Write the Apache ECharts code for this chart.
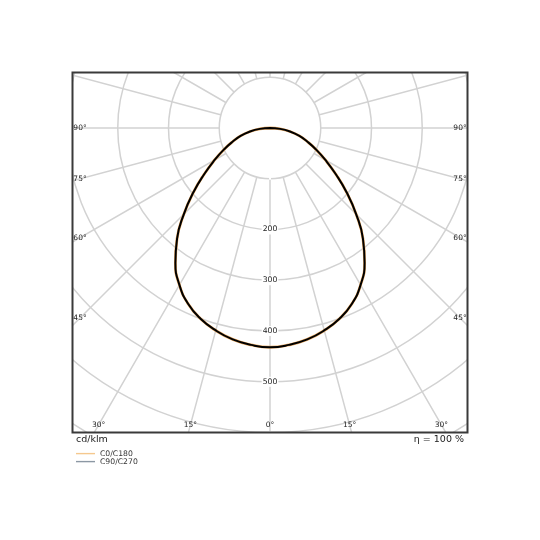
<!DOCTYPE html>
<html>
<head>
<meta charset="utf-8">
<script src="https://cdn.jsdelivr.net/npm/echarts@6/dist/echarts.min.js"></script>
<style>
html,body{margin:0;padding:0;background:#fff;}
#c{width:540px;height:540px;}
</style>
</head>
<body>
<div id="c"></div>
<script>
// ---- data ----
const gammaDeg = [0, 5, 10, 15, 20, 25, 30, 35, 40, 45, 50, 55, 60, 65, 70, 75, 80, 85, 90];
const intensityC0C180 = [432, 429, 423, 413, 400, 382, 357, 325, 285, 240, 197, 158, 126, 100, 78, 60, 40, 20, 0];
const intensityC90C270 = [432, 429, 423, 413, 400, 382, 357, 325, 285, 240, 197, 158, 126, 100, 78, 60, 40, 20, 0];
const radiusTickLabels = [200, 300, 400, 500];
const angleTickLabels = [0, 15, 30, 45, 60, 75, 90];
const seriesNames = ['C0/C180', 'C90/C270'];
const unitText = 'cd/klm';
const efficiencyText = 'η = 100 %';

// ---- layout ----
const CX = 270, CY = 128;
const PX_PER_100 = 50.75;
const R_MAX = 800;
const INNER_RING = 100; // spokes start at this ring
const FRAME = {x1: 72.5, y1: 72.5, x2: 467.5, y2: 432.5};
const FONT = 'DejaVu Sans';

function buildCurve(values) {
  const pts = [];
  // right half: from 90° down to 5°
  for (let i = gammaDeg.length - 1; i >= 1; i--) pts.push([values[i], 360 - gammaDeg[i]]);
  // left half: from 0° up to 90°
  for (let i = 0; i < gammaDeg.length; i++) pts.push([values[i], gammaDeg[i]]);
  return pts;
}

const chart = echarts.init(document.getElementById('c'), null, {renderer: 'canvas'});

const gridColor = '#d2d2d2';
const graphics = [];
// white disk hiding the spokes inside the innermost ring
graphics.push({type: 'circle', silent: true, z: 2, shape: {cx: CX, cy: CY, r: PX_PER_100 * INNER_RING / 100}, style: {fill: '#fff'}});
// white covers outside the frame
const W = 540, H = 540;
[[0, 0, W, FRAME.y1 - 0.5], [0, FRAME.y2 + 0.5, W, H - FRAME.y2], [0, 0, FRAME.x1 - 0.5, H], [FRAME.x2 + 0.5, 0, W - FRAME.x2, H]]
  .forEach(r => graphics.push({type: 'rect', silent: true, z: 100, shape: {x: r[0], y: r[1], width: r[2], height: r[3]}, style: {fill: '#fff'}}));
// frame
graphics.push({type: 'rect', silent: true, z: 101, shape: {x: FRAME.x1, y: FRAME.y1, width: FRAME.x2 - FRAME.x1, height: FRAME.y2 - FRAME.y1}, style: {fill: 'none', stroke: '#3a3a3a', lineWidth: 2}});

// angle labels placed where each spoke meets an inset of the frame
const insetL = 80 - CX, insetR = 460 - CX, insetB = 425 - CY;
angleTickLabels.forEach(a => {
  const sides = a === 0 ? [0] : [-1, 1];
  sides.forEach(s => {
    const rad = a * Math.PI / 180;
    const dx = s * Math.sin(rad), dy = Math.cos(rad);
    let t = Infinity;
    if (dx < -1e-9) t = Math.min(t, insetL / dx);
    if (dx > 1e-9) t = Math.min(t, insetR / dx);
    if (dy > 1e-9) t = Math.min(t, insetB / dy);
    graphics.push({type: 'text', silent: true, z: 102, x: CX + t * dx, y: CY + t * dy,
      style: {text: a + '°', fontSize: 7.5, fontFamily: FONT, fill: '#222', align: 'center', verticalAlign: 'middle'}});
  });
});
graphics.push({type: 'text', silent: true, z: 102, x: 76, y: 440,
  style: {text: unitText, fontSize: 9.5, fontFamily: FONT, fill: '#222', align: 'left', verticalAlign: 'middle'}});
graphics.push({type: 'text', silent: true, z: 102, x: 464, y: 440,
  style: {text: efficiencyText, fontSize: 9.5, fontFamily: FONT, fill: '#222', align: 'right', verticalAlign: 'middle'}});

const option = {
  animation: false,
  backgroundColor: '#fff',
  polar: {
    center: [CX, CY],
    radius: [0, PX_PER_100 * R_MAX / 100]
  },
  angleAxis: {
    type: 'value', min: 0, max: 360, interval: 15,
    startAngle: 270, clockwise: true,
    axisLine: {show: false}, axisTick: {show: false}, axisLabel: {show: false},
    splitLine: {show: true, lineStyle: {color: gridColor, width: 1.5}},
    z: 1
  },
  radiusAxis: {
    type: 'value', min: 0, max: R_MAX, interval: 100,
    axisLine: {show: false}, axisTick: {show: false},
    axisLabel: {
      show: true, margin: 0, align: 'center', verticalAlign: 'middle',
      fontSize: 7.7, fontFamily: FONT, color: '#222',
      backgroundColor: '#fff', padding: [1, 1],
      formatter: v => radiusTickLabels.indexOf(v) >= 0 ? String(v) : ''
    },
    splitLine: {show: true, lineStyle: {color: gridColor, width: 1.5}},
    z: 3
  },
  legend: {
    show: true, orient: 'vertical', left: 76, top: 449.6, padding: 0, itemGap: 0,
    itemWidth: 19, itemHeight: 1.4, z: 200, selectedMode: false,
    textStyle: {fontSize: 7.7, fontFamily: FONT, color: '#333', lineHeight: 7.3},
    data: [
      {name: seriesNames[0], icon: 'rect', itemStyle: {color: '#f5c88e'}},
      {name: seriesNames[1], icon: 'rect', itemStyle: {color: '#8c98a4'}}
    ]
  },
  graphic: graphics,
  series: [
    {
      name: seriesNames[0], type: 'line', coordinateSystem: 'polar',
      data: buildCurve(intensityC0C180), smooth: true, showSymbol: false, clip: false,
      lineStyle: {color: '#e8a860', width: 2.8}, itemStyle: {color: '#f5c88e'}, z: 4
    },
    {
      name: seriesNames[1], type: 'line', coordinateSystem: 'polar',
      data: buildCurve(intensityC90C270), smooth: true, showSymbol: false, clip: false,
      lineStyle: {color: '#000', width: 2}, itemStyle: {color: '#8c98a4'}, z: 5
    }
  ]
};
chart.setOption(option);
</script>
</body>
</html>
